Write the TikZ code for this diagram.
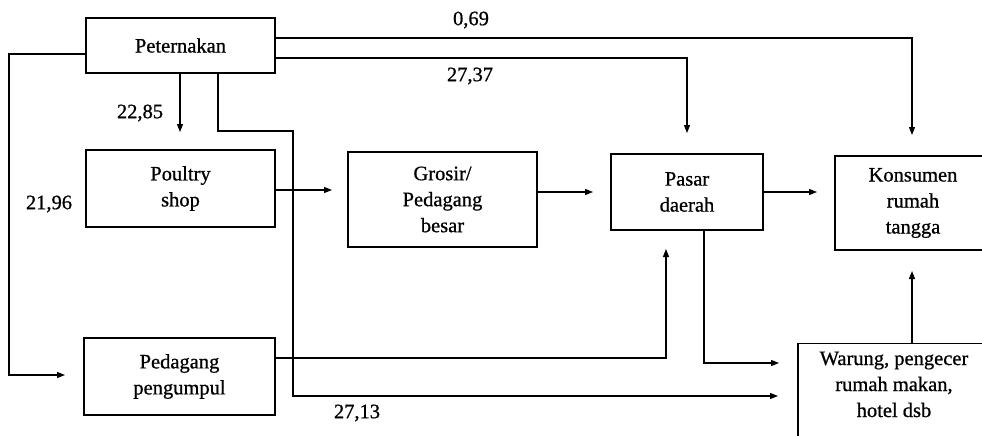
\documentclass[tikz,border=0pt]{standalone}
\usepackage{fontspec}
\setmainfont[FakeBold=0.8]{Liberation Serif}
\usetikzlibrary{arrows.meta}
\tikzset{
  box/.style={draw, line width=1.2pt, align=center, inner sep=0pt,
    font=\fontsize{20.5}{26}\selectfont},
  lab/.style={inner sep=0pt, font=\fontsize{20.5}{24}\selectfont},
  conn/.style={line width=1.2pt},
  arr/.style={conn, -{Triangle[length=8pt,width=6pt]}}
}
\begin{document}
\begin{tikzpicture}[x=1pt,y=-1pt]
\useasboundingbox (0,0) rectangle (982,436);
\clip (0,0) rectangle (982,436);
% boxes
\node[box, minimum width=189pt, minimum height=55pt] (pet) at (180.5,45.5) {Peternakan};
\node[box, minimum width=189pt, minimum height=77pt] (poul) at (180.5,188.5) {Poultry\\shop};
\node[box, minimum width=189pt, minimum height=95pt] (gros) at (442.5,199.5) {Grosir/\\Pedagang\\besar};
\node[box, minimum width=152pt, minimum height=76pt] (pasar) at (687,192) {Pasar\\daerah};
\node[box, minimum width=156pt, minimum height=94pt] (kons) at (913,203) {Konsumen\\rumah\\tangga};
\node[box, minimum width=191pt, minimum height=77pt] (peng) at (179.5,376.5) {Pedagang\\pengumpul};
\node[box, minimum width=192pt, anchor=north, inner ysep=8pt, text depth=100pt] (war) at (894,343) {Warung, pengecer\\rumah makan,\\hotel dsb};
% labels
\node[lab] (l0069) at (471,20) {0,69};
\node[lab] (l2737) at (470,76) {27,37};
\node[lab] (l2285) at (140,113) {22,85};
\node[lab] (l2196) at (49,204) {21,96};
\node[lab] (l2713) at (357,413) {27,13};
% coordinates
\coordinate (L1) at (9,54);
\coordinate (L2) at (9,375);
\coordinate (t1) at (65,375);
\coordinate (t2) at (180,132);
\coordinate (b1) at (218,131);
\coordinate (b2) at (293,131);
\coordinate (b3) at (293,396);
\coordinate (t3) at (778,396);
\coordinate (r1) at (912,38);
\coordinate (t4) at (912,135);
\coordinate (r2) at (687,58);
\coordinate (t5) at (687,133);
\coordinate (t6) at (332,190);
\coordinate (t7) at (593,192);
\coordinate (t8) at (817,192);
\coordinate (p1) at (666,358);
\coordinate (t9) at (666,249);
\coordinate (q1) at (704,363);
\coordinate (t10) at (779,363);
\coordinate (t11) at (912,271);
% connectors
\draw[arr] (L1 -| pet.west) -- (L1) -- (L2) -- (t1);
\draw[arr] (t2 |- pet.south) -- (t2);
\draw[arr] (b1 |- pet.south) -- (b1) -- (b2) -- (b3) -- (t3);
\draw[arr] (r1 -| pet.east) -- (r1) -- (t4);
\draw[arr] (r2 -| pet.east) -- (r2) -- (t5);
\draw[arr] (t6 -| poul.east) -- (t6);
\draw[arr] (t7 -| gros.east) -- (t7);
\draw[arr] (t8 -| pasar.east) -- (t8);
\draw[arr] (p1 -| peng.east) -- (p1) -- (t9);
\draw[arr] (q1 |- pasar.south) -- (q1) -- (t10);
\draw[arr] (t11 |- war.north) -- (t11);
\end{tikzpicture}
\end{document}
